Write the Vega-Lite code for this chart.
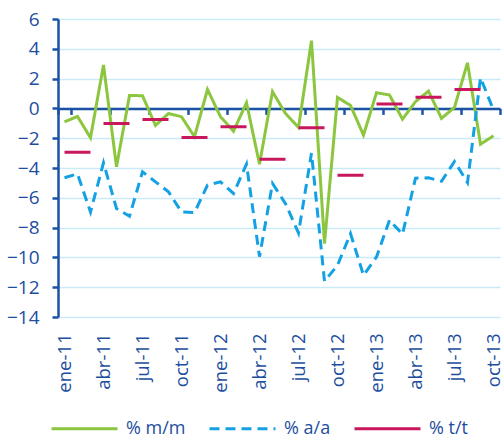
{
  "$schema": "https://vega.github.io/schema/vega-lite/v6.json",
  "width": 442,
  "height": 298,
  "autosize": "none",
  "padding": {"left": 58, "top": 19, "right": 2, "bottom": 120},
  "background": "white",
  "config": {
    "font": "Open Sans",
    "view": {"stroke": null}
  },
  "datasets": {
    "series": [
      {"mes": "ene-11", "serie": "% m/m", "g": "mm", "v": -0.9},
      {"mes": "feb-11", "serie": "% m/m", "g": "mm", "v": -0.54},
      {"mes": "mar-11", "serie": "% m/m", "g": "mm", "v": -1.97},
      {"mes": "abr-11", "serie": "% m/m", "g": "mm", "v": 2.91},
      {"mes": "may-11", "serie": "% m/m", "g": "mm", "v": -3.92},
      {"mes": "jun-11", "serie": "% m/m", "g": "mm", "v": 0.87},
      {"mes": "jul-11", "serie": "% m/m", "g": "mm", "v": 0.85},
      {"mes": "ago-11", "serie": "% m/m", "g": "mm", "v": -1.14},
      {"mes": "sep-11", "serie": "% m/m", "g": "mm", "v": -0.34},
      {"mes": "oct-11", "serie": "% m/m", "g": "mm", "v": -0.56},
      {"mes": "nov-11", "serie": "% m/m", "g": "mm", "v": -1.9},
      {"mes": "dic-11", "serie": "% m/m", "g": "mm", "v": 1.27},
      {"mes": "ene-12", "serie": "% m/m", "g": "mm", "v": -0.56},
      {"mes": "feb-12", "serie": "% m/m", "g": "mm", "v": -1.53},
      {"mes": "mar-12", "serie": "% m/m", "g": "mm", "v": 0.38},
      {"mes": "abr-12", "serie": "% m/m", "g": "mm", "v": -3.74},
      {"mes": "may-12", "serie": "% m/m", "g": "mm", "v": 1.12},
      {"mes": "jun-12", "serie": "% m/m", "g": "mm", "v": -0.34},
      {"mes": "jul-12", "serie": "% m/m", "g": "mm", "v": -1.28},
      {"mes": "ago-12", "serie": "% m/m", "g": "mm", "v": 4.55},
      {"mes": "sep-12", "serie": "% m/m", "g": "mm", "v": -9.07},
      {"mes": "oct-12", "serie": "% m/m", "g": "mm", "v": 0.74},
      {"mes": "nov-12", "serie": "% m/m", "g": "mm", "v": 0.2},
      {"mes": "dic-12", "serie": "% m/m", "g": "mm", "v": -1.79},
      {"mes": "ene-13", "serie": "% m/m", "g": "mm", "v": 1.05},
      {"mes": "feb-13", "serie": "% m/m", "g": "mm", "v": 0.9},
      {"mes": "mar-13", "serie": "% m/m", "g": "mm", "v": -0.72},
      {"mes": "abr-13", "serie": "% m/m", "g": "mm", "v": 0.45},
      {"mes": "may-13", "serie": "% m/m", "g": "mm", "v": 1.16},
      {"mes": "jun-13", "serie": "% m/m", "g": "mm", "v": -0.67},
      {"mes": "jul-13", "serie": "% m/m", "g": "mm", "v": 0.07},
      {"mes": "ago-13", "serie": "% m/m", "g": "mm", "v": 3.06},
      {"mes": "sep-13", "serie": "% m/m", "g": "mm", "v": -2.4},
      {"mes": "oct-13", "serie": "% m/m", "g": "mm", "v": -1.84},
      {"mes": "ene-11", "serie": "% a/a", "g": "aa", "v": -4.65},
      {"mes": "feb-11", "serie": "% a/a", "g": "aa", "v": -4.4},
      {"mes": "mar-11", "serie": "% a/a", "g": "aa", "v": -6.95},
      {"mes": "abr-11", "serie": "% a/a", "g": "aa", "v": -3.65},
      {"mes": "may-11", "serie": "% a/a", "g": "aa", "v": -6.72},
      {"mes": "jun-11", "serie": "% a/a", "g": "aa", "v": -7.24},
      {"mes": "jul-11", "serie": "% a/a", "g": "aa", "v": -4.26},
      {"mes": "ago-11", "serie": "% a/a", "g": "aa", "v": -4.93},
      {"mes": "sep-11", "serie": "% a/a", "g": "aa", "v": -5.6},
      {"mes": "oct-11", "serie": "% a/a", "g": "aa", "v": -6.95},
      {"mes": "nov-11", "serie": "% a/a", "g": "aa", "v": -6.99},
      {"mes": "dic-11", "serie": "% a/a", "g": "aa", "v": -5.15},
      {"mes": "ene-12", "serie": "% a/a", "g": "aa", "v": -4.93},
      {"mes": "feb-12", "serie": "% a/a", "g": "aa", "v": -5.71},
      {"mes": "mar-12", "serie": "% a/a", "g": "aa", "v": -3.74},
      {"mes": "abr-12", "serie": "% a/a", "g": "aa", "v": -9.95},
      {"mes": "may-12", "serie": "% a/a", "g": "aa", "v": -5.04},
      {"mes": "jun-12", "serie": "% a/a", "g": "aa", "v": -6.39},
      {"mes": "jul-12", "serie": "% a/a", "g": "aa", "v": -8.36},
      {"mes": "ago-12", "serie": "% a/a", "g": "aa", "v": -3.0},
      {"mes": "sep-12", "serie": "% a/a", "g": "aa", "v": -11.6},
      {"mes": "oct-12", "serie": "% a/a", "g": "aa", "v": -10.53},
      {"mes": "nov-12", "serie": "% a/a", "g": "aa", "v": -8.4},
      {"mes": "dic-12", "serie": "% a/a", "g": "aa", "v": -11.2},
      {"mes": "ene-13", "serie": "% a/a", "g": "aa", "v": -9.97},
      {"mes": "feb-13", "serie": "% a/a", "g": "aa", "v": -7.5},
      {"mes": "mar-13", "serie": "% a/a", "g": "aa", "v": -8.45},
      {"mes": "abr-13", "serie": "% a/a", "g": "aa", "v": -4.68},
      {"mes": "may-13", "serie": "% a/a", "g": "aa", "v": -4.66},
      {"mes": "jun-13", "serie": "% a/a", "g": "aa", "v": -4.89},
      {"mes": "jul-13", "serie": "% a/a", "g": "aa", "v": -3.56},
      {"mes": "ago-13", "serie": "% a/a", "g": "aa", "v": -4.98},
      {"mes": "sep-13", "serie": "% a/a", "g": "aa", "v": 2.06},
      {"mes": "oct-13", "serie": "% a/a", "g": "aa", "v": -0.11},
      {"mes": "ene-11", "serie": "% t/t", "g": "q1-11", "v": -2.94},
      {"mes": "mar-11", "serie": "% t/t", "g": "q1-11", "v": -2.94},
      {"mes": "abr-11", "serie": "% t/t", "g": "q2-11", "v": -1.01},
      {"mes": "jun-11", "serie": "% t/t", "g": "q2-11", "v": -1.01},
      {"mes": "jul-11", "serie": "% t/t", "g": "q3-11", "v": -0.74},
      {"mes": "sep-11", "serie": "% t/t", "g": "q3-11", "v": -0.74},
      {"mes": "oct-11", "serie": "% t/t", "g": "q4-11", "v": -1.95},
      {"mes": "dic-11", "serie": "% t/t", "g": "q4-11", "v": -1.95},
      {"mes": "ene-12", "serie": "% t/t", "g": "q1-12", "v": -1.23},
      {"mes": "mar-12", "serie": "% t/t", "g": "q1-12", "v": -1.23},
      {"mes": "abr-12", "serie": "% t/t", "g": "q2-12", "v": -3.41},
      {"mes": "jun-12", "serie": "% t/t", "g": "q2-12", "v": -3.41},
      {"mes": "jul-12", "serie": "% t/t", "g": "q3-12", "v": -1.3},
      {"mes": "sep-12", "serie": "% t/t", "g": "q3-12", "v": -1.3},
      {"mes": "oct-12", "serie": "% t/t", "g": "q4-12", "v": -4.48},
      {"mes": "dic-12", "serie": "% t/t", "g": "q4-12", "v": -4.48},
      {"mes": "ene-13", "serie": "% t/t", "g": "q1-13", "v": 0.29},
      {"mes": "mar-13", "serie": "% t/t", "g": "q1-13", "v": 0.29},
      {"mes": "abr-13", "serie": "% t/t", "g": "q2-13", "v": 0.74},
      {"mes": "jun-13", "serie": "% t/t", "g": "q2-13", "v": 0.74},
      {"mes": "jul-13", "serie": "% t/t", "g": "q3-13", "v": 1.27},
      {"mes": "sep-13", "serie": "% t/t", "g": "q3-13", "v": 1.27}
    ]
  },
  "data": {"name": "series"},
  "resolve": {"axis": {"x": "independent"}},
  "layer": [
    {
      "mark": {"type": "line", "strokeWidth": 3, "opacity": 0},
      "encoding": {
        "x": {
          "field": "mes",
          "type": "ordinal",
          "scale": {
            "type": "band",
            "paddingInner": 0,
            "paddingOuter": 0,
            "domain": ["ene-11","feb-11","mar-11","abr-11","may-11","jun-11","jul-11","ago-11","sep-11","oct-11","nov-11","dic-11","ene-12","feb-12","mar-12","abr-12","may-12","jun-12","jul-12","ago-12","sep-12","oct-12","nov-12","dic-12","ene-13","feb-13","mar-13","abr-13","may-13","jun-13","jul-13","ago-13","sep-13","oct-13"]
          },
          "axis": {
            "orient": "top",
            "offset": -89.4,
            "title": null,
            "values": ["ene-11","abr-11","jul-11","oct-11","ene-12","abr-12","jul-12","oct-12","ene-13","abr-13","jul-13","oct-13"],
            "tickCount": 40,
            "labels": false,
            "grid": false,
            "tickBand": "extent",
            "tickSize": -6,
            "tickWidth": 2.5,
            "tickColor": "#1b52a4",
            "domainColor": "#1b52a4",
            "domainWidth": 2.5
          }
        },
        "y": {
          "field": "v",
          "type": "quantitative",
          "scale": {"domain": [-14, 6], "nice": false, "zero": false},
          "axis": {
            "title": null,
            "values": [-14, -12, -10, -8, -6, -4, -2, 0, 2, 4, 6],
            "tickCount": 11,
            "labelFont": "Open Sans",
            "labelColor": "#1d4e9e",
            "labelFontSize": 19,
            "labelPadding": 13,
            "labelOverlap": false,
            "tickSize": 6,
            "tickWidth": 2.5,
            "tickColor": "#1b52a4",
            "domainColor": "#1b52a4",
            "domainWidth": 2.5,
            "grid": true,
            "gridColor": "#c9ebf8",
            "gridWidth": 1.5
          }
        },
        "detail": {"field": "g"}
      }
    },
    {
      "mark": {"type": "line", "strokeWidth": 3, "strokeCap": "butt"},
      "encoding": {
        "x": {
          "field": "mes",
          "type": "ordinal",
          "axis": {
            "orient": "bottom",
            "title": null,
            "values": ["ene-11","abr-11","jul-11","oct-11","ene-12","abr-12","jul-12","oct-12","ene-13","abr-13","jul-13","oct-13"],
            "tickCount": 40,
            "labelFont": "Open Sans",
            "labelColor": "#1d4e9e",
            "labelAngle": -90,
            "labelFontSize": 18.5,
            "labelPadding": 16,
            "ticks": false,
            "domain": false,
            "grid": false
          }
        },
        "y": {
          "field": "v",
          "type": "quantitative",
          "axis": {
            "title": null,
            "values": [-14, -12, -10, -8, -6, -4, -2, 0, 2, 4, 6],
            "tickCount": 11,
            "labelFont": "Open Sans",
            "labelColor": "#1d4e9e",
            "labelFontSize": 19,
            "labelPadding": 13,
            "labelOverlap": false,
            "tickSize": 6,
            "tickWidth": 2.5,
            "tickColor": "#1b52a4",
            "domainColor": "#1b52a4",
            "domainWidth": 2.5,
            "grid": true,
            "gridColor": "#c9ebf8",
            "gridWidth": 1.5
          }
        },
        "color": {
          "field": "serie",
          "type": "nominal",
          "scale": {"domain": ["% m/m", "% a/a", "% t/t"], "range": ["#8cc63f", "#13a1e4", "#c8175d"]},
          "legend": {
            "title": null,
            "orient": "none",
            "direction": "horizontal",
            "legendX": -8,
            "legendY": 375,
            "symbolType": "stroke",
            "symbolSize": 4356,
            "symbolStrokeWidth": 3,
            "labelFontSize": 18,
            "labelColor": "#1d4e9e",
            "labelFont": "Open Sans",
            "labelOffset": 7,
            "columnPadding": 17
          }
        },
        "strokeDash": {
          "field": "serie",
          "type": "nominal",
          "scale": {"domain": ["% m/m", "% a/a", "% t/t"], "range": [[1, 0], [10, 6], [1, 0]]},
          "legend": null
        },
        "detail": {"field": "g"}
      }
    }
  ]
}
